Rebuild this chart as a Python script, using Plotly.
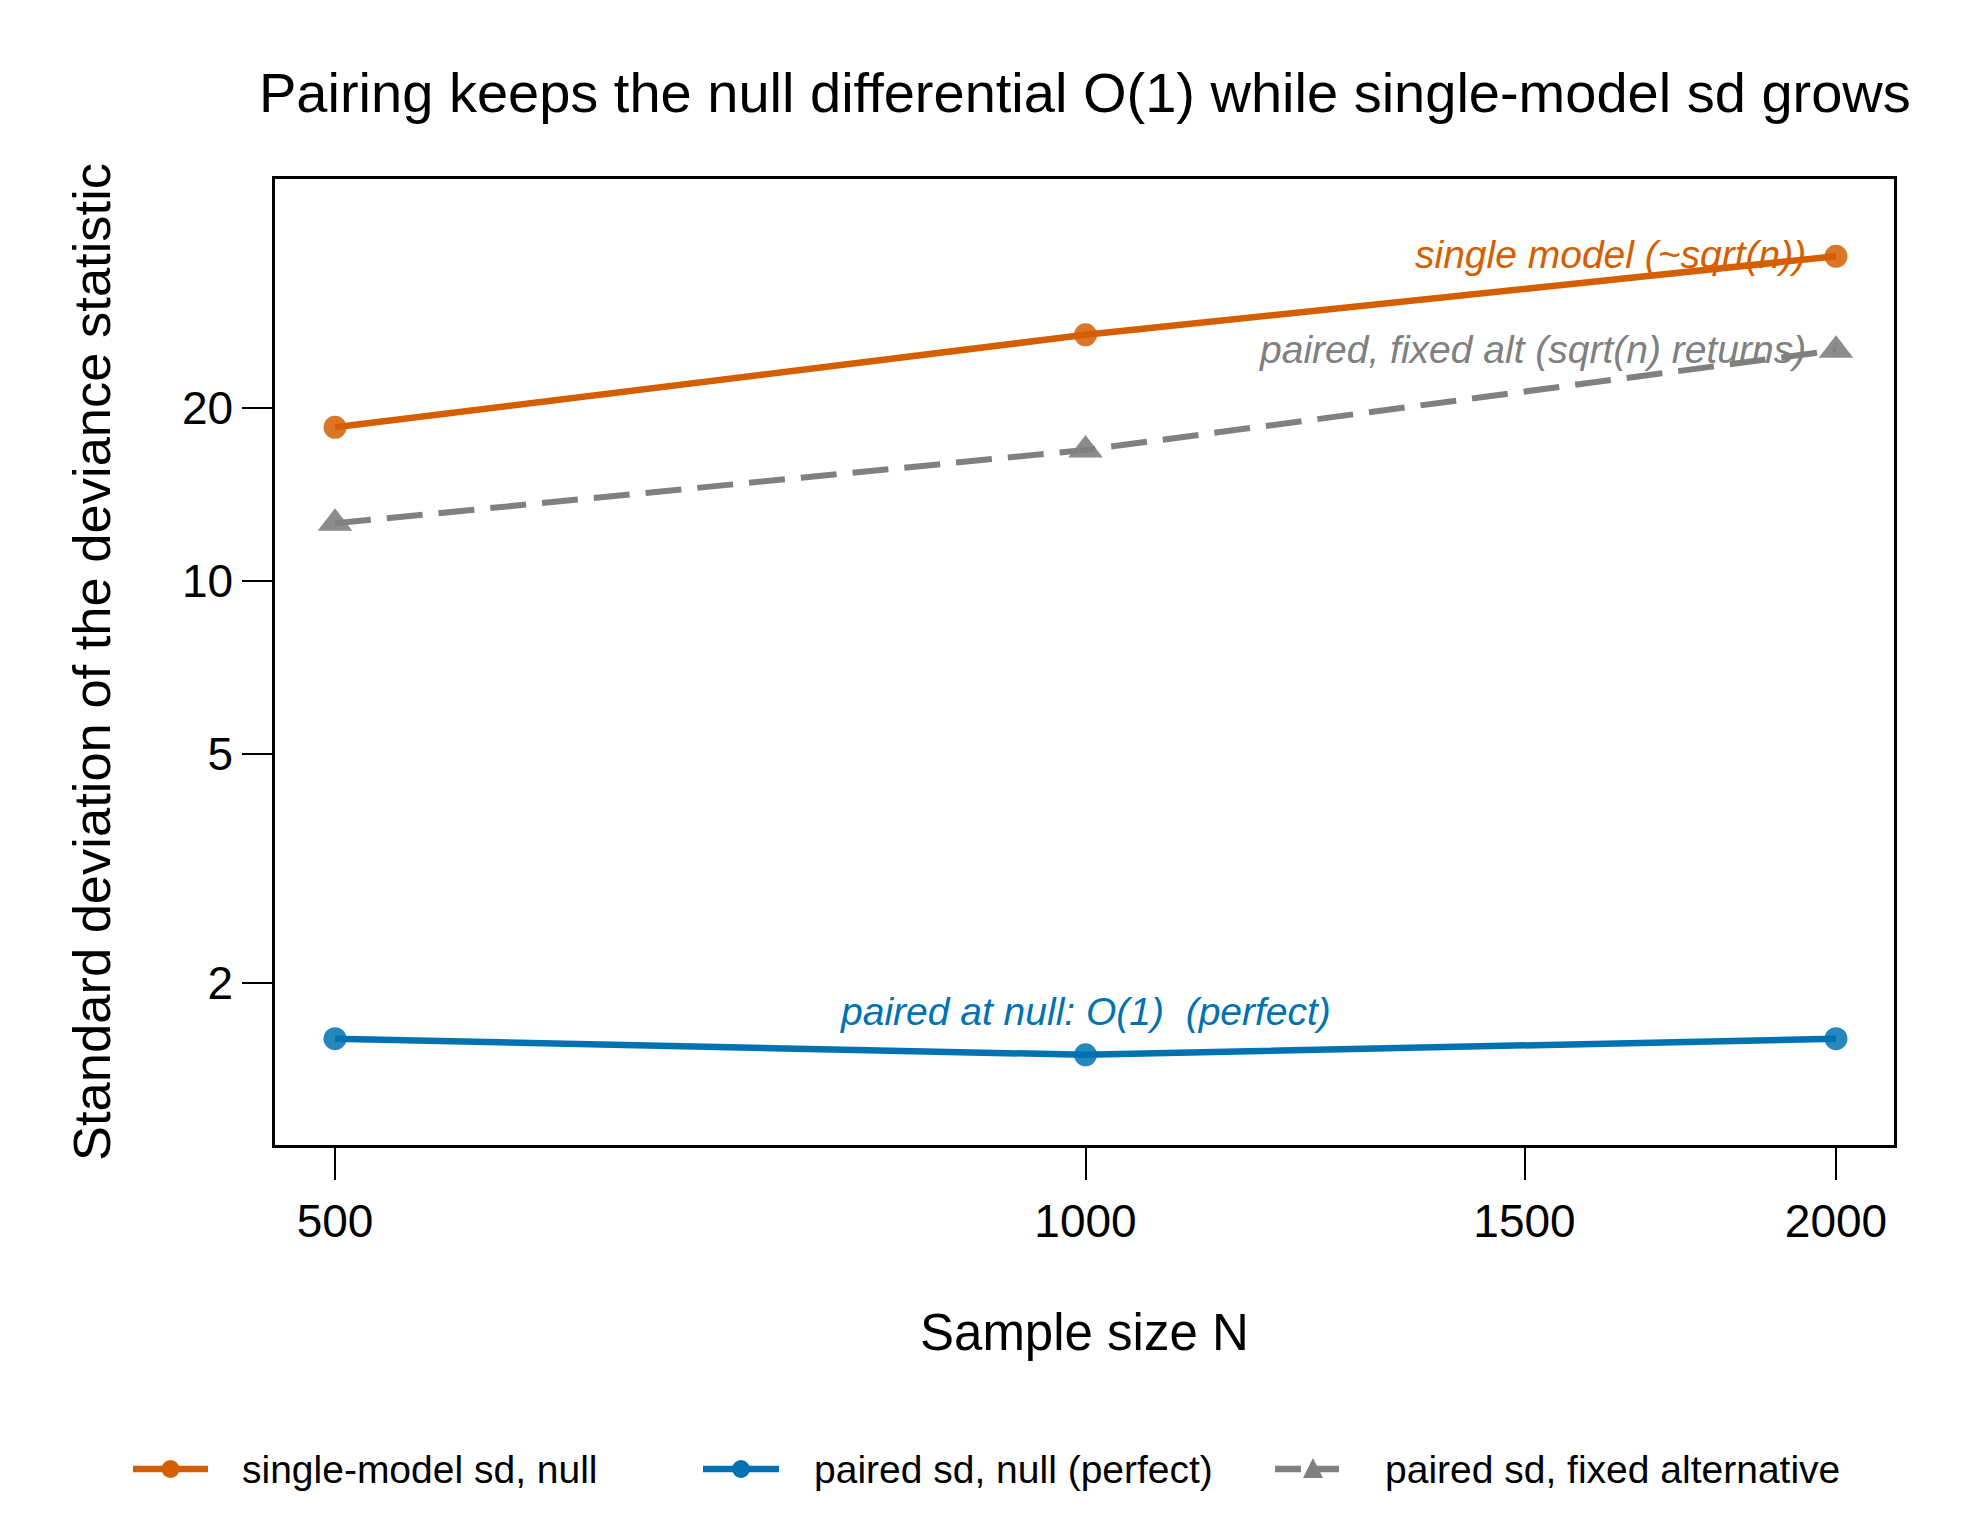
import numpy as np
import plotly.graph_objects as go

# ---- data ----
sample_n = [500, 1000, 2000]
single_sd_null = [18.5, 26.8, 36.7]
paired_sd_null = [1.60, 1.50, 1.60]
paired_sd_alt = [12.6, 16.9, 25.2]

x_ticks = [500, 1000, 1500, 2000]
y_ticks = [2, 5, 10, 20]

series_names = ["single-model sd, null", "paired sd, null (perfect)", "paired sd, fixed alternative"]
label_texts = ["single model (~sqrt(n))", "paired at null: O(1)  (perfect)", "paired, fixed alt (sqrt(n) returns)"]

ORANGE = "#D55E00"
BLUE = "#0072B2"
GRAY = "#808080"
FONT = "Liberation Sans, Arial, sans-serif"

W, H = 1980, 1530
L, R, T, B = 275, 1894, 179, 1145


def px_x(p):
    return (p - L) / (R - L)


def px_y(p):
    return (B - p) / (B - T)


fig = go.Figure()

fig.add_trace(go.Scatter(
    x=sample_n, y=single_sd_null, mode="lines+markers", name=series_names[0],
    line=dict(color=ORANGE, width=6.5),
    marker=dict(symbol="circle", size=23, color="rgba(213,94,0,0.85)"),
    showlegend=False))
fig.add_trace(go.Scatter(
    x=sample_n, y=paired_sd_null, mode="lines+markers", name=series_names[1],
    line=dict(color=BLUE, width=6.5),
    marker=dict(symbol="circle", size=23, color="rgba(0,114,178,0.85)"),
    showlegend=False))
fig.add_trace(go.Scatter(
    x=sample_n, y=paired_sd_alt, mode="lines+markers", name=series_names[2],
    line=dict(color=GRAY, width=6, dash="36px,16px"),
    marker=dict(symbol="triangle-up", size=30, color="rgba(128,128,128,0.9)"),
    showlegend=False))

ann = []
# in-plot labels
ann.append(dict(x=np.log10(sample_n[-1]), y=np.log10(single_sd_null[-1]), xref="x", yref="y",
                text=label_texts[0], showarrow=False, xanchor="right", yanchor="middle",
                xshift=-28, yshift=2, font=dict(family=FONT, size=39, color=ORANGE)))
ann.append(dict(x=np.log10(sample_n[-1]), y=np.log10(paired_sd_alt[-1]), xref="x", yref="y",
                text=label_texts[2], showarrow=False, xanchor="right", yanchor="middle",
                xshift=-28, yshift=1, font=dict(family=FONT, size=39, color=GRAY)))
ann.append(dict(x=np.log10(sample_n[1]), y=np.log10(paired_sd_null[1]), xref="x", yref="y",
                text=label_texts[1], showarrow=False, xanchor="center", yanchor="middle",
                yshift=43, font=dict(family=FONT, size=39, color=BLUE)))
for a in ann:
    a["text"] = "<i>" + a["text"] + "</i>"

# title and axis titles
ann.append(dict(x=0.5, y=px_y(92), xref="paper", yref="paper", showarrow=False,
                text="Pairing keeps the null differential O(1) while single-model sd grows",
                xanchor="center", yanchor="middle", font=dict(family=FONT, size=56, color="black")))
ann.append(dict(x=0.5, y=px_y(1332), xref="paper", yref="paper", showarrow=False,
                text="Sample size N", xanchor="center", yanchor="middle",
                font=dict(family=FONT, size=51, color="black")))
ann.append(dict(x=px_x(91), y=0.5, xref="paper", yref="paper", showarrow=False,
                text="Standard deviation of the deviance statistic", textangle=-90,
                xanchor="center", yanchor="middle", font=dict(family=FONT, size=52.5, color="black")))

# manual legend
shapes = []
leg_y = px_y(1469)
leg_items = [(133, 208, 240, ORANGE, "circle", None), (703, 779, 812, BLUE, "circle", None),
             (1275, 1351, 1383, GRAY, "triangle", "dash")]
for (lx0, lx1, tx, col, sym, dash), name in zip(leg_items, series_names):
    line = dict(color=col, width=6.5)
    if dash:
        line["dash"] = "26px,12px"
    shapes.append(dict(type="line", xref="paper", yref="paper", x0=px_x(lx0), x1=px_x(lx1),
                       y0=leg_y, y1=leg_y, line=line))
    cx = px_x((lx0 + lx1) / 2)
    if sym == "circle":
        shapes.append(dict(type="circle", xref="paper", yref="paper", xsizemode="pixel",
                           ysizemode="pixel", xanchor=cx, yanchor=leg_y, x0=-9, x1=9, y0=-9, y1=9,
                           fillcolor=col, line=dict(width=0)))
    else:
        shapes.append(dict(type="path", xref="paper", yref="paper", xsizemode="pixel",
                           ysizemode="pixel", xanchor=cx, yanchor=leg_y,
                           path="M -10,-9 L 10,-9 L 0,11 Z", fillcolor=col, line=dict(width=0)))
    ann.append(dict(x=px_x(tx), y=leg_y, xref="paper", yref="paper", showarrow=False,
                    text=name, xanchor="left", yanchor="middle",
                    font=dict(family=FONT, size=39, color="black")))

fig.update_layout(
    width=W, height=H,
    margin=dict(l=L, r=W - R, t=T, b=H - B),
    paper_bgcolor="white", plot_bgcolor="white",
    showlegend=False,
    annotations=ann, shapes=shapes,
    xaxis=dict(type="log", range=[2.6749, 3.3243], tickvals=x_ticks,
               ticktext=[str(v) for v in x_ticks], ticks="outside", ticklen=32, tickwidth=2,
               tickcolor="black", showline=True, linecolor="black", linewidth=2.5, mirror=True,
               showgrid=False, zeroline=False, ticklabelstandoff=2,
               tickfont=dict(family=FONT, size=46, color="black")),
    yaxis=dict(type="log", range=[0.0193, 1.699], tickvals=y_ticks,
               ticktext=[str(v) for v in y_ticks], ticks="outside", ticklen=30, tickwidth=2,
               tickcolor="black", showline=True, linecolor="black", linewidth=2.5, mirror=True,
               showgrid=False, zeroline=False, ticklabelstandoff=0,
               tickfont=dict(family=FONT, size=46, color="black")),
)

fig.write_html("out.html")
